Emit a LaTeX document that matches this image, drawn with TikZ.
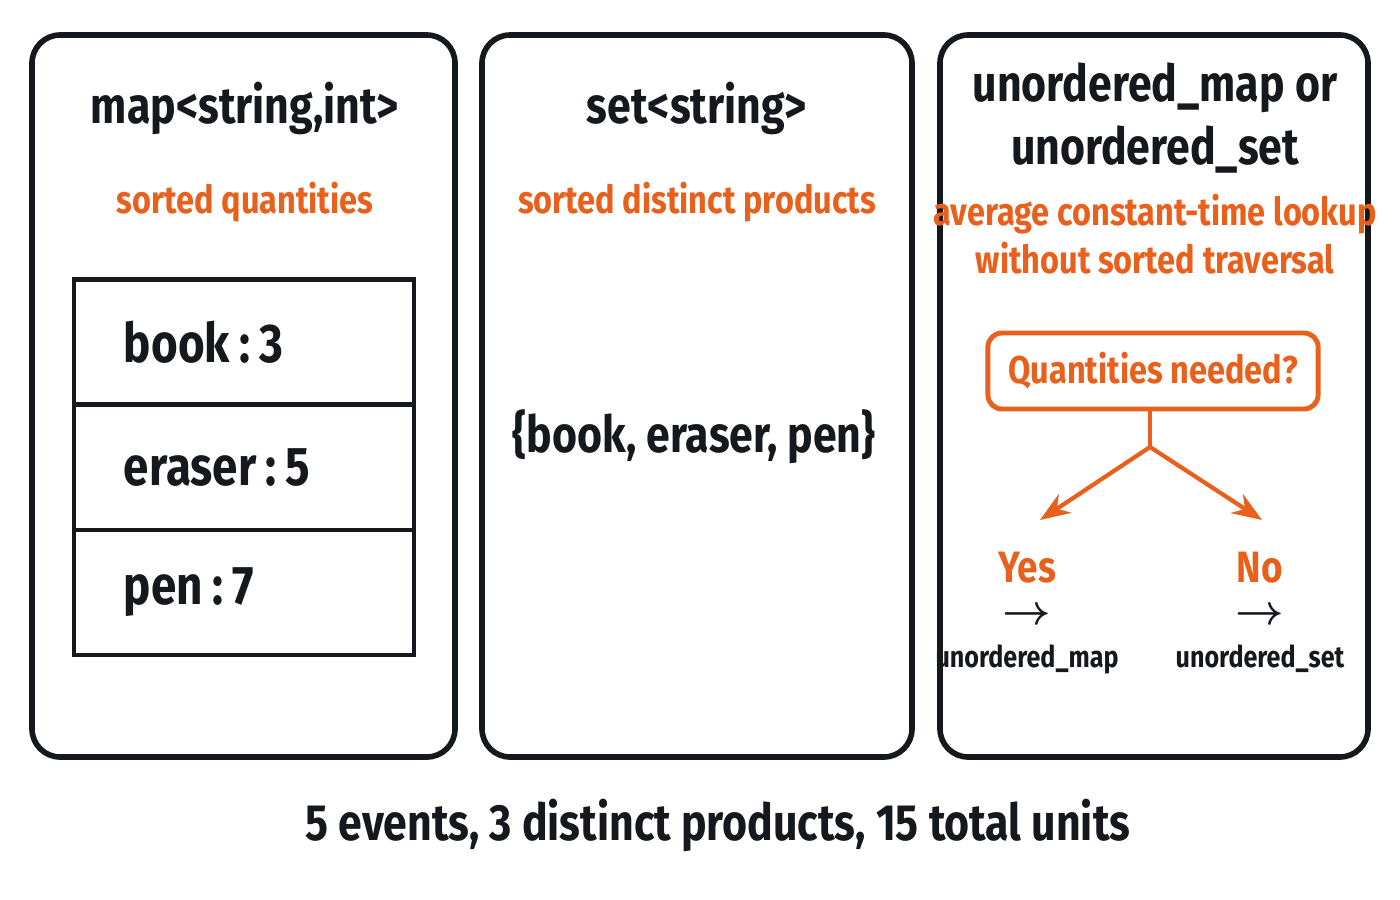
\documentclass[tikz,border=0pt]{standalone}
\usepackage{amsmath}
\usepackage{fontspec}
\setmainfont{Fira Sans}[FakeStretch=0.84]
\usetikzlibrary{arrows.meta,positioning}
\definecolor{accent}{HTML}{E8601C}
\definecolor{ink}{HTML}{15181C}
\tikzset{
  panel/.style={draw=ink,line width=1.6pt,rounded corners=8pt},
  title/.style={text=ink,font=\fontsize{14.5}{18}\selectfont\bfseries,align=center},
  note/.style={text=accent,font=\fontsize{11}{13.5}\selectfont\bfseries,align=center},
  cell/.style={draw=ink,line width=1.2pt,outer sep=0pt,minimum width=3.4cm,minimum height=1.25cm,text width=2.4cm,
    align=left,font=\fontsize{15.5}{18}\selectfont\bfseries,text=ink},
  pick/.style={text=accent,font=\fontsize{12.5}{15}\selectfont\bfseries},
  res/.style={text=ink,font=\fontsize{8.5}{10}\selectfont\bfseries,align=center},
  flow/.style={draw=accent,line width=1.2pt,-{Stealth[length=3mm]}}
}
\begin{document}
\begin{tikzpicture}[x=0.01cm,y=-0.01cm]
\useasboundingbox (0,0) rectangle (1400,900);
% panels
\draw[panel] (32,35) rectangle (455,757);
\draw[panel] (482,35) rectangle (912,757);
\draw[panel] (940,35) rectangle (1368,757);

% map
\node[title] (maptitle) at (245,108) {map<string,int>};
\node[note] (mapnote) at (245,202) {sorted quantities};
\node[cell] (book) at (244,342) {book\,:\,3};
\node[cell,below=0pt of book] (eraser) {eraser\,:\,5};
\node[cell,below=0pt of eraser] (pen) {pen\,:\,7};

% set
\node[title] (settitle) at (697,108) {set<string>};
\node[note] (setnote) at (697,202) {sorted distinct products};
\node[text=ink,font=\fontsize{14.5}{18}\selectfont\bfseries] (setval) at (694,437) {\{book, eraser, pen\}};

% unordered
\node[title] (untitle) at (1155,118) {unordered\_map or\\unordered\_set};
\node[note] (unnote) at (1155,234) {average constant-time lookup\\without sorted traversal};
\node[draw=accent,line width=1.4pt,rounded corners=4pt,minimum width=3.3cm,minimum height=0.76cm,
  text=accent,font=\fontsize{11}{13}\selectfont\bfseries] (ask) at (1153,371) {Quantities needed?};
\coordinate (fork) at (1150,447);
\node[pick] (yes) at (1027,568) {Yes};
\node[pick] (no) at (1260,568) {No};
\draw[accent,line width=1.2pt] (ask.south -| fork) -- (fork);
\draw[flow] (fork) -- (1040,520);
\draw[flow] (fork) -- (1262,520);
\node[res,below=0pt of yes] (yesres) {\fontsize{13}{13}\selectfont$\boldsymbol{\rightarrow}$\\[2pt]unordered\_map};
\node[res,below=0pt of no] (nores) {\fontsize{13}{13}\selectfont$\boldsymbol{\rightarrow}$\\[2pt]unordered\_set};

% summary
\node[title] (sum) at (718,825) {5 events, 3 distinct products, 15 total units};
\end{tikzpicture}
\end{document}
